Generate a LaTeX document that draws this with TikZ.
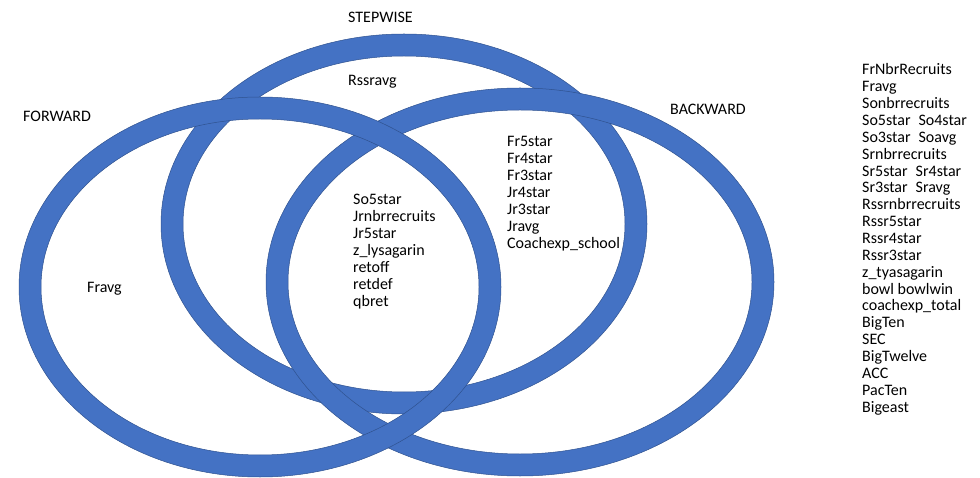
\documentclass[tikz,border=0pt]{standalone}
\usepackage{fontspec}
\setmainfont{Carlito}
\definecolor{ringblue}{HTML}{4472C4}
\definecolor{ringedge}{HTML}{2F528F}
\begin{document}
\begin{tikzpicture}[x=1pt, y=-1pt, font=\fontsize{16}{17}\selectfont, line join=round,
 ring/.style={fill=ringblue, draw=ringedge, line width=0.5pt, even odd rule},
 lbl/.style={anchor=base west, inner sep=0pt}]
 \useasboundingbox (0,0) rectangle (980,478);
 % rings: stepwise, backward, forward
 \filldraw[ring] (404,224) ellipse [x radius=243, y radius=190] (404,224) ellipse [x radius=221, y radius=168];
 \filldraw[ring] (520,282) ellipse [x radius=254, y radius=194] (520,282) ellipse [x radius=232, y radius=172];
 \filldraw[ring] (260,287) ellipse [x radius=241, y radius=190] (260,287) ellipse [x radius=219, y radius=168];
 % titles
 \node[lbl] (stp) at (348,23) {STEPWISE};
 \node[lbl] (fwd) at (23,122) {FORWARD};
 \node[lbl] (bwd) at (670,115) {BACKWARD};
 \node[lbl] (rss) at (348,86) {Rssravg};
 \node[lbl] (fra) at (87,293) {Fravg};
 % middle lists
 \foreach \t [count=\i from 0] in {So5star, Jrnbrrecruits, Jr5star, z\_lysagarin, retoff, retdef, qbret}
 \node[lbl] (mid\i) at (353,205+16.85*\i) {\t};
 \foreach \t [count=\i from 0] in {Fr5star, Fr4star, Fr3star, Jr4star, Jr3star, Jravg, Coachexp\_school}
 \node[lbl] (bk\i) at (507,147+16.85*\i) {\t};
 % variables left out
 \foreach \t [count=\i from 0] in {FrNbrRecruits, Fravg, Sonbrrecruits, So5star\enspace So4star,
 So3star\enspace Soavg, Srnbrrecruits, Sr5star\enspace Sr4star, Sr3star\enspace Sravg,
 Rssrnbrrecruits, Rssr5star, Rssr4star, Rssr3star, z\_tyasagarin, bowl bowlwin,
 coachexp\_total, BigTen, SEC, BigTwelve, ACC, PacTen, Bigeast}
 \node[lbl] (out\i) at (862,75+16.85*\i) {\t};
\end{tikzpicture}
\end{document}
